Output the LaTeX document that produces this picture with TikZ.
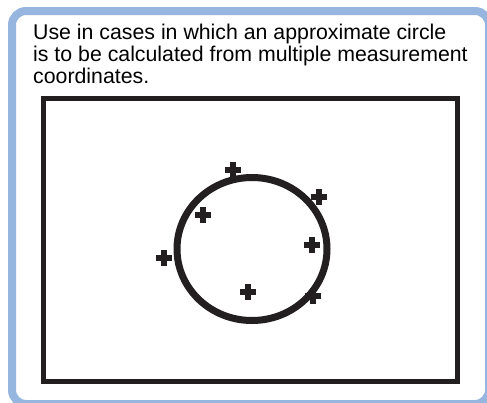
\documentclass[tikz,border=0pt]{standalone}
\usepackage{fontspec}
\setmainfont{Liberation Sans}
\usetikzlibrary{positioning,calc}

\definecolor{framebl}{RGB}{150,182,224}
\definecolor{inkblk}{RGB}{35,31,32}

\begin{document}
\begin{tikzpicture}[x=1pt, y=-1pt]
    \tikzstyle{frame} = [draw=framebl, line width=8pt, rounded corners=14pt, fill=white]
    \tikzstyle{screen} = [draw=inkblk, line width=5pt]
    \tikzstyle{fitcircle} = [draw=inkblk, line width=7pt]
    \tikzstyle{point} = [fill=inkblk]
    \tikzstyle{note} = [font=\fontsize{21.3}{22}\selectfont, align=left, inner sep=0pt, text=black]

    \useasboundingbox (0,0) rectangle (487,402);
    \clip (0,0) rectangle (487,402);

    \draw [frame] (12,11) rectangle (489,404);

    \node [note, anchor=base west] (desc) at (33,83.5) {Use in cases in which an approximate circle\\is to be calculated from multiple measurement\\coordinates.};

    \draw [screen] (43.5,98.5) rectangle (457.5,381.5);
    \draw [fitcircle] (252,249) ellipse [x radius=75, y radius=71.5];

    % measured points
    \foreach \px/\py in {233/170, 319/197, 203/215, 312/245, 164/258, 248/292, 313/296}
    {
        \fill [point] (\px-8,\py-3.3) rectangle (\px+8,\py+3.3);
        \fill [point] (\px-3.3,\py-8) rectangle (\px+3.3,\py+8);
    }
\end{tikzpicture}
\end{document}
